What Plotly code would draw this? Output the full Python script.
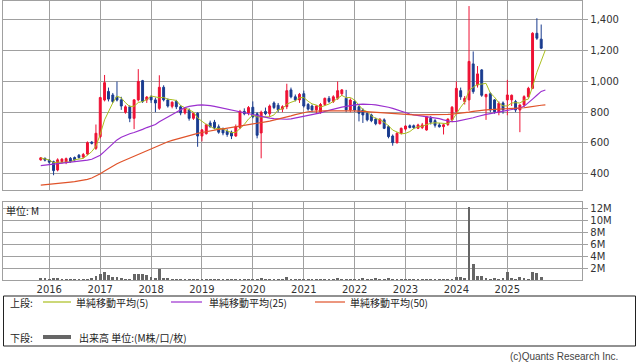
import pandas as pd
import plotly.graph_objects as go

# ---------------- data (monthly, Nov 2015 - Sep 2025) ----------------
start_month = "2015-11-01"
opens = [490,500,488,478,424,478,475,500,505,520,508,528,605,565,641,879,935,912,900,880,
         800,836,760,880,1005,880,900,880,825,962,880,838,870,835,795,815,760,793,645,660,
         730,735,705,690,675,670,645,700,805,795,832,790,665,805,790,860,845,820,836,945,
         900,880,920,850,840,815,800,850,890,870,890,920,890,814,870,836,814,793,782,755,
         725,750,706,645,602,663,690,712,712,695,700,684,760,745,717,706,720,750,803,940,
         869,880,1114,977,1075,900,920,880,800,860,880,880,869,814,847,900,955,1313,1275]
highs = [508,505,495,485,500,500,505,508,512,528,535,610,612,720,900,1042,960,925,999,900,
         845,845,885,1080,1010,905,910,895,1040,975,890,870,880,845,830,825,800,800,690,725,
         745,750,720,700,690,680,720,815,825,840,870,800,810,830,850,870,860,845,985,960,
         915,925,940,860,850,845,860,895,905,910,1000,950,945,890,880,845,825,800,790,765,
         760,760,715,655,670,700,715,720,720,725,730,775,775,755,730,725,760,840,1000,960,
         905,1490,1195,1100,1080,920,930,885,870,870,1010,915,880,850,910,965,1320,1411,1370]
lows = [485,480,465,390,415,465,462,470,485,498,500,520,590,555,630,870,870,860,870,815,
        790,735,690,870,860,860,860,800,815,870,830,825,820,780,785,745,750,575,610,655,
        700,690,660,650,640,625,640,690,780,780,760,630,500,780,770,820,800,800,820,890,
        870,860,830,810,800,790,790,840,860,860,880,905,800,800,800,740,730,740,735,715,
        720,690,630,582,595,655,680,695,690,690,690,680,720,700,700,655,710,735,790,880,
        850,810,920,960,900,750,800,790,780,790,780,840,800,670,835,895,950,1270,1210]
closes = [503,488,475,420,490,495,498,480,490,505,525,602,598,663,895,992,885,869,879,840,
          835,760,880,1000,870,898,880,860,962,880,840,865,835,795,822,760,793,645,685,718,
          705,700,670,665,655,645,706,805,790,830,770,650,800,790,840,830,815,836,940,900,
          880,916,840,820,815,840,850,890,870,900,940,945,815,879,814,793,782,750,745,725,
          755,695,641,602,663,695,710,700,700,717,717,771,735,715,705,718,755,832,955,900,
          890,1130,934,1049,910,915,814,803,858,815,912,910,814,847,901,955,1313,1281,1216]
volume_m = [0.34,0.34,0.30,0.40,0.34,0.22,0.17,0.17,0.11,0.17,0.28,0.22,0.45,0.73,1.00,1.40,0.84,0.56,0.50,0.34,
            0.17,0.17,1.12,1.00,1.00,0.84,0.50,0.34,1.85,0.40,0.34,0.17,0.17,0.17,0.17,0.17,0.11,0.28,0.11,0.06,
            0.17,0.11,0.17,0.17,0.17,0.11,0.11,0.11,0.06,0.17,0.17,0.28,0.40,0.22,0.22,0.17,0.06,0.11,0.50,0.28,
            0.28,0.17,0.11,0.06,0.28,0.17,0.17,0.17,0.06,0.11,0.45,0.22,0.11,0.17,0.17,0.28,0.40,0.22,0.22,0.34,
            0.22,0.22,0.45,0.28,0.28,0.17,0.28,0.11,0.11,0.11,0.11,0.11,0.11,0.11,0.17,0.28,0.22,0.22,0.62,0.50,
            0.34,12.3,2.70,0.73,0.73,0.45,0.28,0.40,0.28,0.45,1.34,0.40,0.22,0.50,0.34,0.22,1.34,1.18,0.56]
# moving averages (one more point than candles: current period)
ma25 = [452,455,458,460,462,465,468,472,476,480,484,488,494,505,520,545,570,598,620,637,
        650,660,668,676,688,700,710,720,738,755,770,785,800,815,830,838,843,846,847,846,
        843,838,832,826,820,813,807,802,796,790,784,777,770,765,761,758,756,754,754,757,
        762,768,774,779,784,788,795,805,813,820,827,833,838,843,847,851,852,852,850,847,
        843,838,832,825,815,803,795,788,783,779,776,772,768,764,758,750,742,738,740,745,
        750,756,764,772,780,786,791,796,801,806,810,815,820,827,838,860,885,910,935,944]
ma50 = [326,328,331,333,336,339,342,345,348,352,357,363,372,385,400,418,434,450,465,478,
        490,502,514,527,541,553,565,576,588,598,608,617,625,632,640,648,656,662,668,674,
        679,684,688,692,696,700,704,708,713,718,724,728,732,737,742,748,754,760,768,776,
        784,791,798,803,806,808,808,808,808,809,810,810,810,809,808,806,804,801,799,796,
        793,791,789,787,785,784,783,782,782,782,782,782,782,783,784,785,786,788,790,793,
        796,800,805,810,813,815,817,818,819,820,821,822,824,826,829,833,838,843,845,848]
ma5_current = 1205

price_ticks = [400, 600, 800, 1000, 1200, 1400]
vol_ticks = [2, 4, 6, 8, 10, 12]
vol_tick_text = ["2M", "4M", "6M", "8M", "10M", "12M"]
years = list(range(2016, 2026))

legend_upper = ["単純移動平均(5)", "単純移動平均(25)", "単純移動平均(50)"]
legend_lower = "出来高 単位:(M株/口/枚)"

# ---------------- build ----------------
dates = pd.date_range(start_month, periods=len(closes), freq="MS")
ma_dates = pd.date_range(start_month, periods=len(ma25), freq="MS")
ma5 = list(pd.Series(closes).rolling(5, min_periods=1).mean()) + [ma5_current]

W, H = 638, 362
def px(x):
    return x / W
def py(y):
    return 1 - y / H

UP, DOWN = "#ee1133", "#1a3c8f"
C5, C25, C50 = "#aabf1e", "#9b2fcf", "#e0532a"
GRID = "#a0a0a0"
FONT = "DejaVu Sans"
JFONT = "Noto Sans CJK JP"

fig = go.Figure()
fig.add_trace(go.Candlestick(
    x=dates, open=opens, high=highs, low=lows, close=closes,
    increasing=dict(line=dict(color=UP, width=1), fillcolor=UP),
    decreasing=dict(line=dict(color=DOWN, width=1), fillcolor=DOWN),
    whiskerwidth=0, xaxis="x", yaxis="y", showlegend=False, hoverinfo="skip"))
fig.add_trace(go.Scatter(x=ma_dates, y=ma5, mode="lines", line=dict(color=C5, width=1),
                         xaxis="x", yaxis="y", showlegend=False))
fig.add_trace(go.Scatter(x=ma_dates, y=ma25, mode="lines", line=dict(color=C25, width=1.2),
                         xaxis="x", yaxis="y", showlegend=False))
fig.add_trace(go.Scatter(x=ma_dates, y=ma50, mode="lines", line=dict(color=C50, width=1.2),
                         xaxis="x", yaxis="y", showlegend=False))
fig.add_trace(go.Bar(x=dates, y=volume_m, marker=dict(color="#666666", line=dict(width=0)),
                     width=20 * 86400000, xaxis="x2", yaxis="y2", showlegend=False))

xrange = ["2015-02-03", "2026-06-23"]
tickvals = [f"{y}-01-01" for y in years]
common_x = dict(range=xrange, type="date", domain=[px(3), px(582.3)], showgrid=True,
                gridcolor=GRID, gridwidth=1, tickvals=tickvals, showline=True, mirror=True,
                linecolor=GRID, linewidth=1, zeroline=False, fixedrange=True,
                rangeslider=dict(visible=False))

fig.update_layout(
    width=W, height=H, margin=dict(l=0, r=0, t=0, b=0),
    paper_bgcolor="white", plot_bgcolor="white", showlegend=False,
    font=dict(family=FONT, size=10, color="#333333"),
    xaxis=dict(**common_x, anchor="y", showticklabels=False, ticks=""),
    xaxis2=dict(**common_x, anchor="y2", ticktext=[str(y) for y in years], ticks="",
                tickfont=dict(size=10, color="#333333")),
    yaxis=dict(domain=[py(190), py(1)], range=[294, 1523], side="right", tickvals=price_ticks,
               tickformat=",d", ticks="outside", ticklen=5, tickcolor=GRID, showgrid=True,
               gridcolor=GRID, showline=True, mirror=True, linecolor=GRID, zeroline=False,
               anchor="x", tickfont=dict(size=10, color="#333333")),
    yaxis2=dict(domain=[py(280), py(201.7)], range=[0, 13.1], side="right", tickvals=vol_ticks,
                ticktext=vol_tick_text, ticks="outside", ticklen=5, tickcolor=GRID, showgrid=True,
                gridcolor=GRID, showline=True, mirror=True, linecolor=GRID, zeroline=False,
                anchor="x2", tickfont=dict(size=10, color="#333333")),
    bargap=0,
)

shapes = []
annotations = []
# legend box
shapes.append(dict(type="rect", xref="paper", yref="paper", x0=px(3.5), x1=px(635.5),
                   y0=py(346), y1=py(296), line=dict(color="#222222", width=1), fillcolor="white"))
# upper legend row
row1_y, row2_y = 302, 337
annotations.append(dict(x=px(8), y=py(row1_y), xref="paper", yref="paper", text="上段:",
                        showarrow=False, xanchor="left", yanchor="middle",
                        font=dict(family=JFONT, size=10, color="#222222")))
for (x0, x1, tx), col, label in zip([(43, 71, 74), (171, 202, 207), (315, 345, 348)],
                                    [C5, C25, C50], legend_upper):
    shapes.append(dict(type="line", xref="paper", yref="paper", x0=px(x0), x1=px(x1),
                       y0=py(row1_y), y1=py(row1_y), line=dict(color=col, width=1.2)))
    annotations.append(dict(x=px(tx), y=py(row1_y), xref="paper", yref="paper", text=label,
                            showarrow=False, xanchor="left", yanchor="middle",
                            font=dict(family=JFONT, size=10, color="#222222")))
annotations.append(dict(x=px(8), y=py(row2_y), xref="paper", yref="paper", text="下段:",
                        showarrow=False, xanchor="left", yanchor="middle",
                        font=dict(family=JFONT, size=10, color="#222222")))
shapes.append(dict(type="line", xref="paper", yref="paper", x0=px(43), x1=px(71),
                   y0=py(row2_y), y1=py(row2_y), line=dict(color="#666666", width=4)))
annotations.append(dict(x=px(77), y=py(row2_y), xref="paper", yref="paper", text=legend_lower,
                        showarrow=False, xanchor="left", yanchor="middle",
                        font=dict(family=JFONT, size=10, color="#222222")))
# unit label in volume panel
annotations.append(dict(x=px(4), y=py(210), xref="paper", yref="paper", text="単位: M",
                        showarrow=False, xanchor="left", yanchor="middle",
                        font=dict(family=JFONT, size=10, color="#222222")))
# copyright
annotations.append(dict(x=px(620), y=py(356), xref="paper", yref="paper",
                        text="(c)Quants Research Inc.", showarrow=False, xanchor="right",
                        yanchor="middle", font=dict(family="Liberation Sans", size=10, color="#444444")))

fig.update_layout(shapes=shapes, annotations=annotations)
fig.write_html("out.html")
